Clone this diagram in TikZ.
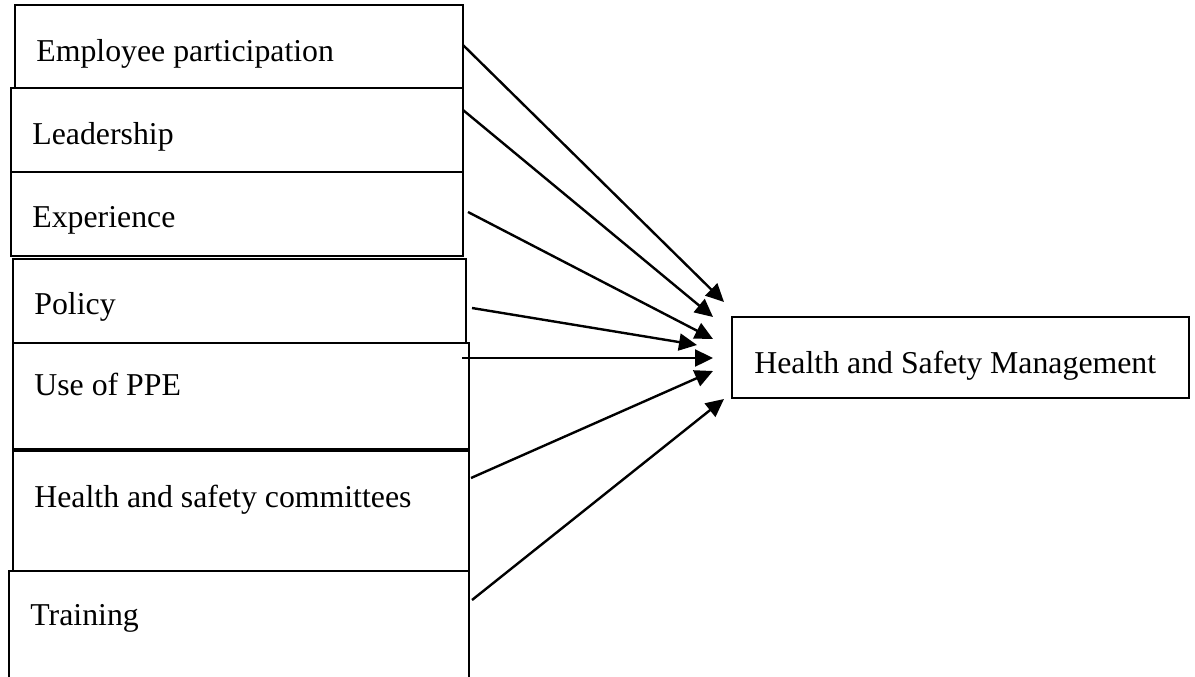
\documentclass[tikz,border=0pt]{standalone}
\usepackage{fontspec}
\setmainfont{Liberation Serif}
\usetikzlibrary{arrows.meta}

\tikzset{
  box/.style={draw,line width=0.75pt,inner sep=0pt,outer sep=0pt,anchor=north west},
  lbl/.style={inner sep=0pt,anchor=base west,font=\fontsize{15.9}{19}\selectfont},
  link/.style={line width=1.2pt,-{Triangle[length=9pt,width=8.5pt]}}
}

\begin{document}
\begin{tikzpicture}[x=0.5pt,y=-0.5pt]
    \clip (0,0) rectangle (1195,676);

    % factor boxes
    \node[box,minimum width=224pt,minimum height=41.5pt] (emp) at (15,5) {};
    \node[box,minimum width=226pt,minimum height=42pt] (lead) at (11,88) {};
    \node[box,minimum width=226pt,minimum height=42pt] (exper) at (11,172) {};
    \node[box,minimum width=226.5pt,minimum height=42pt] (pol) at (13,259) {};
    \node[box,minimum width=228pt,minimum height=53pt] (ppe) at (13,343) {};
    \node[box,minimum width=228pt,minimum height=60pt] (comm) at (13,451) {};
    \node[box,minimum width=230pt,minimum height=60pt] (train) at (9,571) {};
    \node[box,minimum width=228.5pt,minimum height=40.5pt] (hsm) at (732,317) {};

    \node[lbl] (empT) at (36,61.5) {Employee participation};
    \node[lbl] (leadT) at (32,144) {Leadership};
    \node[lbl] (experT) at (32,227) {Experience};
    \node[lbl] (polT) at (34,314) {Policy};
    \node[lbl] (ppeT) at (34,395) {Use of PPE};
    \node[lbl] (commT) at (34,507) {Health and safety committees};
    \node[lbl] (trainT) at (30,625) {Training};
    \node[lbl] (hsmT) at (754,373) {Health and Safety Management};

    % arrow ends
    \coordinate (s1) at (463,45);
    \coordinate (s2) at (463,110);
    \coordinate (s3) at (468,212);
    \coordinate (s4) at (472,308);
    \coordinate (s5) at (462,358);
    \coordinate (s6) at (471,478);
    \coordinate (s7) at (472,600);
    \coordinate (e1) at (724,302);
    \coordinate (e2) at (713,317);
    \coordinate (e3) at (713,339);
    \coordinate (e4) at (697,345);
    \coordinate (e5) at (713,358);
    \coordinate (e6) at (713,371);
    \coordinate (e7) at (724,399);

    \draw[link] (s1) -- (e1);
    \draw[link] (s2) -- (e2);
    \draw[link] (s3) -- (e3);
    \draw[link] (s4) -- (e4);
    \draw[link] (s5) -- (e5);
    \draw[link] (s6) -- (e6);
    \draw[link] (s7) -- (e7);
\end{tikzpicture}
\end{document}
